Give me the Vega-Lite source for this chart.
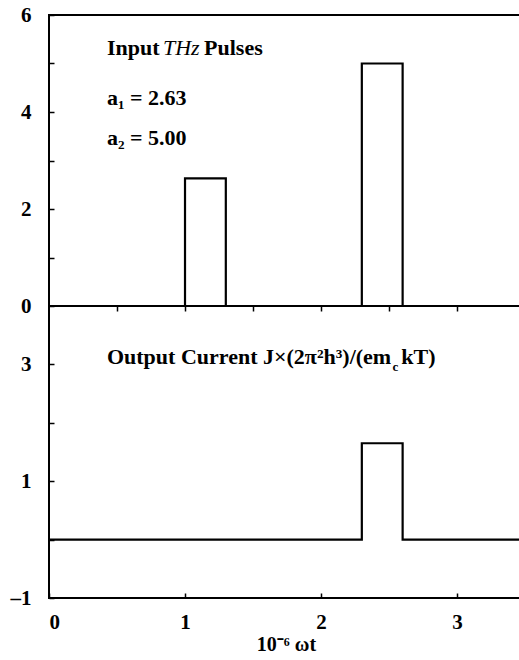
{
  "$schema": "https://vega.github.io/schema/vega-lite/v6.json",
  "padding": {"left": 0, "top": 3, "right": 0, "bottom": 70},
  "background": "white",
  "spacing": 0,
  "bounds": "flush",
  "config": {
    "view": {"stroke": "black", "strokeWidth": 2},
    "axis": {
      "domain": false, "grid": false, "tickColor": "black", "tickWidth": 1.5, "tickSize": -5,
      "labelFont": "Liberation Serif", "labelFontWeight": "bold", "labelFontSize": 21, "labelColor": "black",
      "titleFont": "Liberation Serif", "titleFontWeight": "bold", "titleFontSize": 20, "titleColor": "black"
    },
    "axisY": {"minExtent": 48, "maxExtent": 48},
    "axisTop": {"minExtent": 0, "maxExtent": 0},
    "text": {"font": "Liberation Serif", "fontSize": 22, "fontWeight": "bold", "color": "black", "align": "left", "baseline": "alphabetic"}
  },
  "datasets": {
    "input": [
      {"t": 0, "v": 0}, {"t": 1.0, "v": 2.63}, {"t": 1.3, "v": 0}, {"t": 2.3, "v": 5.0}, {"t": 2.6, "v": 0}, {"t": 3.6, "v": 0}
    ],
    "output": [
      {"t": 0, "v": 0}, {"t": 2.3, "v": 1.65}, {"t": 2.6, "v": 0}, {"t": 3.6, "v": 0}
    ],
    "topText": [
      {"t": 0.426, "v": 5.175, "label": "Input"},
      {"t": 1.14, "v": 5.175, "label": "Pulses"},
      {"t": 0.426, "v": 4.144, "label": "a₁ = 2.63"},
      {"t": 0.426, "v": 3.32, "label": "a₂ = 5.00"}
    ],
    "italicText": [
      {"t": 0.838, "v": 5.175, "label": "THz"}
    ],
    "botText": [
      {"t": 0.426, "v": 3.0, "label": "Output Current J×(2π²h³)/(em"},
      {"t": 2.59, "v": 3.0, "label": "kT)"}
    ],
    "subText": [
      {"t": 2.525, "v": 2.88, "label": "c"}
    ]
  },
  "vconcat": [
    {
      "width": 474, "height": 291,
      "layer": [
        {
          "data": {"name": "input"},
          "mark": {"type": "line", "interpolate": "step-after", "color": "black", "strokeWidth": 2.2, "clip": true},
          "encoding": {
            "x": {"field": "t", "type": "quantitative", "scale": {"domain": [0, 3.485], "nice": false}, "axis": null},
            "y": {"field": "v", "type": "quantitative", "scale": {"domain": [0, 6], "nice": false},
              "axis": {"title": null, "format": "d", "values": [0, 0.5, 1, 1.5, 2, 2.5, 3, 3.5, 4, 4.5, 5, 5.5, 6],
                "labelExpr": "datum.value % 2 == 0 ? datum.label : ''", "labelPadding": 23}}
          }
        },
        {
          "data": {"name": "topText"},
          "mark": {"type": "text"},
          "encoding": {
            "x": {"field": "t", "type": "quantitative", "axis": null},
            "y": {"field": "v", "type": "quantitative"},
            "text": {"field": "label"}
          }
        },
        {
          "data": {"name": "italicText"},
          "mark": {"type": "text", "fontStyle": "italic", "fontWeight": "normal"},
          "encoding": {
            "x": {"field": "t", "type": "quantitative", "axis": null},
            "y": {"field": "v", "type": "quantitative"},
            "text": {"field": "label"}
          }
        }
      ]
    },
    {
      "width": 474, "height": 292,
      "layer": [
        {
          "data": {"name": "output"},
          "mark": {"type": "line", "interpolate": "step-after", "color": "black", "strokeWidth": 2.2, "clip": true},
          "encoding": {
            "x": {"field": "t", "type": "quantitative", "scale": {"domain": [0, 3.485], "nice": false},
              "axis": {"title": "10⁻⁶ ωt", "format": "d", "values": [0, 0.5, 1, 1.5, 2, 2.5, 3],
                "labelExpr": "datum.value % 1 == 0 ? datum.label : ''", "labelPadding": 18, "titlePadding": 2}},
            "y": {"field": "v", "type": "quantitative", "scale": {"domain": [-1, 4], "nice": false},
              "axis": {"title": null, "format": "d", "values": [-1, -0.5, 0, 0.5, 1, 1.5, 2, 2.5, 3, 3.5],
                "labelExpr": "datum.value == -1 ? '–1' : (datum.value == 1 || datum.value == 3 ? datum.label : '')", "labelPadding": 23}}
          }
        },
        {
          "data": {"name": "output"},
          "mark": {"type": "rule", "opacity": 0},
          "encoding": {
            "x": {"field": "t", "type": "quantitative", "axis": {"orient": "top", "title": null, "labels": false, "values": [0.5, 1, 1.5, 2, 2.5, 3]}}
          }
        },
        {
          "data": {"name": "botText"},
          "mark": {"type": "text"},
          "encoding": {
            "x": {"field": "t", "type": "quantitative", "axis": null},
            "y": {"field": "v", "type": "quantitative"},
            "text": {"field": "label"}
          }
        },
        {
          "data": {"name": "subText"},
          "mark": {"type": "text", "fontSize": 13},
          "encoding": {
            "x": {"field": "t", "type": "quantitative", "axis": null},
            "y": {"field": "v", "type": "quantitative"},
            "text": {"field": "label"}
          }
        }
      ],
      "resolve": {"axis": {"x": "independent"}}
    }
  ]
}
